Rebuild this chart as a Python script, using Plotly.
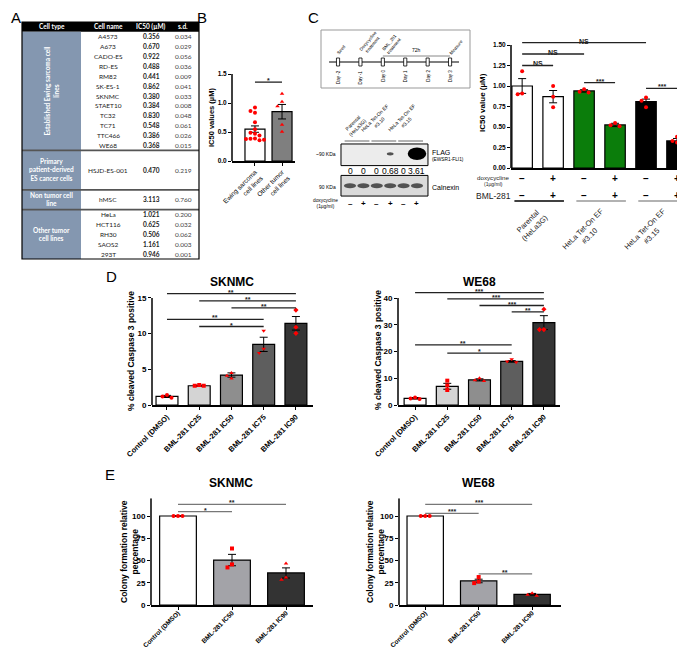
import plotly.graph_objects as go

W, H = 685, 651
SANS = "Liberation Sans"
TAB = "Lato"

# ===================== DATA =====================
# Panel A - IC50 table
table_headers = ["Cell type", "Cell name", "IC50 (µM)", "s.d."]
es_names = ["A4573", "A673", "CADO-ES", "RD-ES", "RM82", "SK-ES-1", "SKNMC",
            "STAET10", "TC32", "TC71", "TTC466", "WE68"]
es_ic50 = [0.356, 0.670, 0.922, 0.488, 0.441, 0.862, 0.380, 0.384, 0.830, 0.548, 0.386, 0.368]
es_sd = [0.034, 0.029, 0.056, 0.036, 0.009, 0.041, 0.033, 0.008, 0.048, 0.061, 0.026, 0.015]
primary_names = ["HSJD-ES-001"]
primary_ic50 = [0.470]
primary_sd = [0.219]
nontumor_names = ["hMSC"]
nontumor_ic50 = [3.113]
nontumor_sd = [0.760]
other_names = ["HeLa", "HCT116", "RH30", "SAOS2", "293T"]
other_ic50 = [1.021, 0.625, 0.506, 1.161, 0.946]
other_sd = [0.200, 0.032, 0.062, 0.003, 0.001]
group_labels = ["Established Ewing sarcoma cell<br>lines",
                "Primary<br>patient-derived<br>ES cancer cells",
                "Non tumor cell<br>line",
                "Other tumor<br>cell lines"]

# Panel B
b_categories = ["Ewing sarcoma<br>cell lines", "Other tumor<br>cell lines"]
b_means = [0.55, 0.85]
b_sem = [0.055, 0.125]
b_points = [es_ic50 + primary_ic50, other_ic50]
b_sig = [(0, 1, 1.36, "*")]

# Panel C - timeline
tl_days = [-2, -1, 0, 1, 2, 3]
tl_day_labels = ["Day -2", "Day -1", "Day 0", "Day 1", "Day 2", "Day 3"]
tl_event_days = [-2, -1, 0, 3]
tl_events = ["Seed", "Doxycycline<br>treatment", "BML_281<br>treatment", "Measure"]
tl_window = (0, 3, "72h")

# Panel C - western blot
blot_groups = ["Parental<br>(HeLa3G)", "HeLa Tet-On EF<br>#3.10", "HeLa Tet-On EF<br>#3.15"]
blot_dox = ["–", "+", "–", "+", "–", "+"]
flag_quant = [0, 0, 0, 0.68, 0, 3.61]
flag_quant_text = ["0", "0", "0", "0.68", "0", "3.61"]

# Panel C - IC50 bars
c_means = [1.00, 0.87, 0.94, 0.525, 0.81, 0.33]
c_sem = [0.09, 0.075, 0.015, 0.02, 0.03, 0.03]
c_points = [[1.18, 0.91, 0.90], [1.00, 0.87, 0.74], [0.96, 0.93, 0.92],
            [0.55, 0.52, 0.51], [0.86, 0.82, 0.74], [0.38, 0.33, 0.31]]
c_dox = ["–", "+", "–", "+", "–", "+"]
c_bml = ["–", "+", "–", "+", "–", "+"]
c_sig = [(0, 4, 1.53, "NS"), (0, 2, 1.39, "NS"), (0, 1, 1.25, "NS"),
         (2, 3, 1.04, "***"), (4, 5, 0.97, "***")]

# Panel D - cleaved caspase 3
d_categories = ["Control (DMSO)", "BML-281 IC25", "BML-281 IC50", "BML-281 IC75", "BML-281 IC90"]
d_sknmc_means = [1.2, 2.7, 4.2, 8.5, 11.45]
d_sknmc_sem = [0.15, 0.08, 0.3, 1.0, 0.95]
d_sknmc_points = [[1.4, 1.0, 1.2], [2.8, 2.7, 2.7], [4.5, 3.7, 4.1],
                  [10.4, 7.9, 7.3], [13.3, 10.9, 10.05]]
d_sknmc_sig = [(0, 4, 15.6, "**"), (1, 4, 14.6, "**"), (2, 4, 13.6, "**"),
               (0, 3, 12.0, "**"), (1, 3, 11.0, "*")]
d_we68_means = [2.5, 7.0, 9.4, 16.3, 30.8]
d_we68_sem = [0.3, 1.1, 0.4, 0.3, 2.6]
d_we68_points = [[2.8, 2.2, 2.4], [9.1, 7.3, 5.6], [10.0, 9.0, 9.3],
                 [17.1, 16.0, 16.3], [35.8, 28.2, 28.2]]
d_we68_sig = [(0, 4, 42.0, "***"), (1, 4, 39.7, "***"), (2, 4, 37.2, "***"),
              (3, 4, 34.8, "**"), (0, 3, 22.5, "**"), (1, 3, 19.4, "*")]

# Panel E - colony formation
e_categories = ["Control (DMSO)", "BML-281 IC50", "BML-281 IC90"]
e_sknmc_means = [100, 50.5, 36]
e_sknmc_sem = [0.3, 6.4, 5.7]
e_sknmc_points = [[100, 100, 100], [63.5, 45.6, 42.2], [46.7, 31.0, 28.4]]
e_sknmc_sig = [(0, 2, 113, "**"), (0, 1, 105, "*")]
e_we68_means = [100, 27, 12]
e_we68_sem = [0.3, 2.0, 1.0]
e_we68_points = [[100, 100, 100], [31.4, 26.3, 24.6], [13.2, 11.5, 10.5]]
e_we68_sig = [(0, 2, 113, "***"), (0, 1, 103, "***"), (1, 2, 35, "**")]

# ===================== STYLE =====================
c_colors = ["white", "white", "#0b7d0b", "#0b7d0b", "black", "black"]
d_colors = ["white", "#d4d4d4", "#8e8e8e", "#5e5e5e", "#353535"]
e_colors = ["white", "#a3a3a8", "#333333"]
d_symbols = ["circle", "square", "triangle-up", "triangle-down", "diamond"]
e_symbols = ["circle", "square", "triangle-up"]

fig = go.Figure()
ann, shp, axes_layout = [], [], {}


def P(x):
    return x / W


def Q(y):
    return 1 - y / H


def text(t, x, y, size=8, color="black", bold=False, xanchor="center", yanchor="middle",
         angle=0, xref="paper", yref="paper", family=SANS, align="center", yshift=0):
    if xref == "paper":
        x = P(x)
    if yref == "paper":
        y = Q(y)
    ann.append(dict(text=t, x=x, y=y, xref=xref, yref=yref, showarrow=False,
                    font=dict(size=size, color=color, family=family,
                              weight="bold" if bold else "normal"),
                    xanchor=xanchor, yanchor=yanchor, textangle=angle, align=align,
                    yshift=yshift, borderpad=0))


def axes(n, x0, x1, y0, y1, xr, yr, xopts=None, yopts=None):
    xk = "xaxis" if n == 1 else f"xaxis{n}"
    yk = "yaxis" if n == 1 else f"yaxis{n}"
    xid = "x" if n == 1 else f"x{n}"
    yid = "y" if n == 1 else f"y{n}"
    base = dict(showgrid=False, zeroline=False, automargin=False, fixedrange=True)
    xa = dict(base, domain=[P(x0), P(x1)], range=xr, anchor=yid, visible=False)
    ya = dict(base, domain=[Q(y1), Q(y0)], range=yr, anchor=xid, visible=False)
    if xopts:
        xa.update(xopts)
    if yopts:
        ya.update(yopts)
    axes_layout[xk] = xa
    axes_layout[yk] = ya
    return xid, yid


def swarm(vals, thresh, step):
    offs = [0.0] * len(vals)
    placed = []
    order = sorted(range(len(vals)), key=lambda k: -vals[k])
    for k in order:
        for c in [0, -1, 1, -2, 2, -3, 3]:
            if all(abs(vals[k] - vals[j]) >= thresh or offs[j] != c * step for j in placed):
                offs[k] = c * step
                break
        placed.append(k)
    return offs


def bar_panel(n, xpx, ypx, xr, yr, axis_top, yticks, ytext, means, sems, points, colors,
              symbols, sigs, ppx, ppy, xlabels=None, xticks=True, bar_w=0.68,
              tick_size=8, xlabel_size=8, xlabel_bold=True, sig_color="#222", msize=4,
              standoff=0):
    xid, yid = axes(
        n, xpx[0], xpx[1], ypx[0], ypx[1], xr, yr,
        xopts=dict(visible=True, showline=True, linecolor="black", linewidth=1.5,
                   ticks="outside" if xticks else "", ticklen=3, tickwidth=1.2,
                   tickcolor="black", tickmode="array", tickvals=list(range(len(means))),
                   ticktext=xlabels if xlabels else [""] * len(means),
                   showticklabels=bool(xlabels), tickangle=-45,
                   ticklabelstandoff=standoff,
                   tickfont=dict(family=SANS, size=xlabel_size, color="black",
                                 weight="bold" if xlabel_bold else "normal")),
        yopts=dict(visible=True, showline=False, ticks="outside", ticklen=3, tickwidth=1.2,
                   tickcolor="black", tickmode="array", tickvals=yticks, ticktext=ytext,
                   tickfont=dict(family=SANS, size=tick_size, color="black", weight="bold")))
    fig.add_trace(go.Bar(x=list(range(len(means))), y=means, width=bar_w,
                         marker=dict(color=colors, line=dict(color="black", width=1.2)),
                         error_y=dict(type="data", array=sems, color="black", thickness=1, width=4),
                         xaxis=xid, yaxis=yid, hoverinfo="skip"))
    for i, pts in enumerate(points):
        offs = swarm(pts, 4.5 / ppy, 4.5 / ppx)
        fig.add_trace(go.Scatter(x=[i + o for o in offs], y=pts, mode="markers",
                                 marker=dict(color="red", size=msize, symbol=symbols[i]),
                                 cliponaxis=False, xaxis=xid, yaxis=yid, hoverinfo="skip"))
    shp.append(dict(type="line", xref=f"{xid} domain", yref=yid, x0=0, x1=0, y0=0,
                    y1=axis_top, line=dict(color="black", width=1.5)))
    for (i, j, y, t) in sigs:
        shp.append(dict(type="line", xref=xid, yref=yid, x0=i, x1=j, y0=y, y1=y,
                        line=dict(color=sig_color, width=1.3)))
        text(t, (i + j) / 2, y, size=7, bold=True, xref=xid, yref=yid,
             yanchor="bottom", yshift=-3, color="#222")
    return xid, yid


# ===================== PANEL A: table =====================
axes(1, 13, 192, 12, 253, [-1, 178], [24.2, -0.2])
shp.append(dict(type="rect", xref="x", yref="y", x0=0, x1=177, y0=0, y1=1,
                fillcolor="black", line=dict(width=0)))
shp.append(dict(type="rect", xref="x", yref="y", x0=0, x1=59, y0=1, y1=24,
                fillcolor="#8497b0", line=dict(width=0)))
col_x = [29.5, 86, 129, 161]
for cx, h in zip(col_x, table_headers):
    text(h, cx, 0.5, size=6.5, color="white", bold=True, xref="x", yref="y", family=TAB)

groups = [(es_names, es_ic50, es_sd), (primary_names, primary_ic50, primary_sd),
          (nontumor_names, nontumor_ic50, nontumor_sd), (other_names, other_ic50, other_sd)]
group_spans = [12, 4, 2, 5]
row = 1
for gi, ((names, ic50, sd), span) in enumerate(zip(groups, group_spans)):
    rh = span / len(names)
    for k, (nm, v, s) in enumerate(zip(names, ic50, sd)):
        yc = row + (k + 0.5) * rh
        text(nm, col_x[1], yc, size=6.5, xref="x", yref="y", family=TAB, color="#222")
        text(f"{v:.3f}", col_x[2], yc, size=6.5, bold=True, xref="x", yref="y", family=TAB, color="#222")
        text(f"{s:.3f}", col_x[3], yc, size=6.5, xref="x", yref="y", family=TAB, color="#444")
    text(group_labels[gi], col_x[0], row + span / 2, size=6.5, color="white", bold=True,
         xref="x", yref="y", family=TAB, angle=-90 if span > 6 else 0)
    row += span
    if row < 24:
        shp.append(dict(type="line", xref="x", yref="y", x0=0, x1=177, y0=row, y1=row,
                        line=dict(color="#555", width=1.6)))
shp.append(dict(type="rect", xref="x", yref="y", x0=0, x1=177, y0=0, y1=24,
                line=dict(color="black", width=1.2)))

# ===================== PANEL B =====================
bar_panel(2, (224, 287), (66, 153), [-0.85, 1.48], [0, 1.5], 1.5,
          [0, 0.5, 1.0, 1.5], ["0.0", "0.5", "1.0", "1.5"], b_means, b_sem, b_points,
          ["white", "#7f7f7f"], ["circle", "triangle-up"], b_sig, 27, 58,
          xlabels=b_categories, bar_w=0.74, tick_size=6.5, xlabel_size=6.5,
          xlabel_bold=False, msize=4)
text("IC50 values (µM)", 203, 110, size=7.5, bold=True, angle=-90)

# ===================== PANEL C: timeline =====================
axes(3, 313, 462, 22, 80, [-2.76, 3.89], [58, 0])
shp.append(dict(type="rect", xref="x3 domain", yref="y3 domain", x0=0, x1=1, y0=0, y1=1,
                line=dict(color="#999", width=1)))
shp.append(dict(type="line", xref="x3", yref="y3", x0=min(tl_days) - 0.4, x1=max(tl_days) + 0.4,
                y0=32, y1=32, line=dict(color="black", width=1.2)))
for d, lab in zip(tl_days, tl_day_labels):
    shp.append(dict(type="rect", xref="x3", yref="y3", x0=d - 0.07, x1=d + 0.07, y0=28, y1=36,
                    fillcolor="white", line=dict(color="black", width=0.8)))
    text(lab, d, 39, size=4.5, xref="x3", yref="y3", angle=-90, yanchor="top")
for d, ev in zip(tl_event_days, tl_events):
    text(ev, d - 0.15, 27, size=4.5, xref="x3", yref="y3", angle=-50,
         xanchor="left", yanchor="bottom")
shp.append(dict(type="line", xref="x3", yref="y3", x0=tl_window[0], x1=tl_window[1], y0=26, y1=26,
                line=dict(color="#888", width=1)))
text(tl_window[2], (tl_window[0] + tl_window[1]) / 2, 24, size=5, xref="x3", yref="y3",
     yanchor="bottom")

# ===================== PANEL C: blot =====================
axes(4, 332, 421, 135, 191, [-0.746, 5.896], [56, -1])
shp.append(dict(type="rect", xref="x4", yref="y4", x0=-0.672, x1=5.82, y0=0, y1=22,
                fillcolor="#ececec", line=dict(color="black", width=1)))
shp.append(dict(type="rect", xref="x4", yref="y4", x0=-0.672, x1=5.82, y0=32, y1=53,
                fillcolor="#dadada", line=dict(color="black", width=1)))
for lane, q in enumerate(flag_quant):
    if q > 0:
        hw = 0.15 + 0.15 * q
        hh = 0.6 + 1.6 * q
        shp.append(dict(type="circle", xref="x4", yref="y4", x0=lane - hw, x1=lane + hw,
                        y0=10 - hh, y1=10 + hh, fillcolor="black",
                        opacity=min(1.0, 0.55 + 0.15 * q), line=dict(width=0)))
    shp.append(dict(type="circle", xref="x4", yref="y4", x0=lane - 0.45, x1=lane + 0.45,
                    y0=40, y1=45, fillcolor="#3a3a3a", opacity=0.85, line=dict(width=0)))
    text(flag_quant_text[lane], lane, 27, size=8.5, xref="x4", yref="y4")
    text(blot_dox[lane], lane, 196, size=8, bold=True, xref="x4")
for g, lab in enumerate(blot_groups):
    shp.append(dict(type="line", xref="x4", yref="paper", x0=2 * g - 0.4, x1=2 * g + 1.45,
                    y0=Q(133), y1=Q(133), line=dict(color="#666", width=1)))
    text(lab, 2 * g + 1.4, 131, size=5, xref="x4", angle=-45, xanchor="right", yanchor="bottom")
text("~90 KDa", 329, 146, size=5, xanchor="right")
text("90 KDa", 329, 179, size=5, xanchor="right")
text("FLAG", 423, 144, size=7, xanchor="left")
text("(EWSR1-FLI1)", 423, 152, size=4.8, xanchor="left")
text("Calnexin", 423, 179, size=7, xanchor="left")
text("doxycycline<br>(1µg/ml)", 331, 196, size=4.8, xanchor="right")

# ===================== PANEL C: IC50 bars =====================
cx_id, cy_id = bar_panel(5, (503, 680), (28.8, 160), [-0.36, 5.355], [0, 1.6], 1.5,
                         [0, 0.25, 0.5, 0.75, 1.0, 1.25, 1.5],
                         ["0.00", "0.25", "0.50", "0.75", "1.00", "1.25", "1.50"],
                         c_means, c_sem, c_points, c_colors, ["circle"] * 6, c_sig, 31, 82,
                         xlabels=None, xticks=False, bar_w=0.66, tick_size=6.5, msize=4)
text("IC50 value (µM)", 474, 95, size=8, bold=True, angle=-90)
text("doxycycline", 485, 169, size=6.2, color="#222")
text("(1µg/ml)", 485, 176, size=5, color="#222")
text("BML-281", 486, 188, size=8.5, color="#222")
for i in range(len(c_means)):
    text(c_dox[i], i, 170, size=10, bold=True, xref=cx_id)
    text(c_bml[i], i, 188, size=10, bold=True, xref=cx_id)
for g, lab in enumerate(blot_groups):
    shp.append(dict(type="line", xref=cx_id, yref="paper", x0=2 * g - 0.25, x1=2 * g + 1.35,
                    y0=Q(193), y1=Q(193), line=dict(color="black" if g == 0 else "#999", width=1.3)))
    text(lab, 2 * g + 0.95, 197, size=7.5, xref=cx_id, angle=-45, xanchor="right",
         yanchor="top", color="#222")

# ===================== PANEL D =====================
bar_panel(6, (144, 305), (280.7, 397), [-0.465, 4.53], [0, 16.3], 15,
          [0, 5, 10, 15], ["0", "5", "10", "15"], d_sknmc_means, d_sknmc_sem,
          d_sknmc_points, d_colors, d_symbols, d_sknmc_sig, 32.25, 7.13,
          xlabels=d_categories, xlabel_size=7.5)
bar_panel(7, (390, 552), (282, 397), [-0.53, 4.5], [0, 43], 40,
          [0, 10, 20, 30, 40], ["0", "10", "20", "30", "40"], d_we68_means, d_we68_sem,
          d_we68_points, d_colors, d_symbols, d_we68_sig, 32.2, 2.675,
          xlabels=d_categories, xlabel_size=7.5)
text("SKNMC", 224, 274, size=12, bold=True)
text("WE68", 471, 274, size=12, bold=True)
text("% cleaved Caspase 3 positive", 123, 343, size=8.5, bold=True, angle=-90)
text("% cleaved Caspase 3 positive", 370, 342, size=8.5, bold=True, angle=-90)

# ===================== PANEL E =====================
bar_panel(8, (143, 305), (490.2, 597), [-0.5, 2.5], [0, 120], 120,
          [0, 25, 50, 75, 100], ["0", "25", "50", "75", "100"], e_sknmc_means, e_sknmc_sem,
          e_sknmc_points, e_colors, e_symbols, e_sknmc_sig, 54, 0.89,
          xlabels=e_categories, sig_color="#777", xlabel_size=6.5, standoff=-3)
bar_panel(9, (391, 553), (490.2, 597), [-0.49, 2.54], [0, 120], 120,
          [0, 25, 50, 75, 100], ["0", "25", "50", "75", "100"], e_we68_means, e_we68_sem,
          e_we68_points, e_colors, e_symbols, e_we68_sig, 53.5, 0.89,
          xlabels=e_categories, sig_color="#777", xlabel_size=6.5, standoff=-3)
text("SKNMC", 223, 475, size=12, bold=True)
text("WE68", 470, 475, size=12, bold=True)
text("Colony formation relative<br>percentage", 121, 544, size=8.5, bold=True, angle=-90)
text("Colony formation relative<br>percentage", 367, 544, size=8.5, bold=True, angle=-90)

# ===================== Panel letters =====================
for letter, x, y in [("A", 8, 9), ("B", 194, 9), ("C", 305, 9), ("D", 103, 269), ("E", 102, 466)]:
    text(letter, x, y, size=15)

fig.update_layout(width=W, height=H, margin=dict(l=0, r=0, t=0, b=0),
                  paper_bgcolor="white", plot_bgcolor="rgba(0,0,0,0)",
                  showlegend=False, template="none",
                  font=dict(family=SANS, color="black"),
                  annotations=ann, shapes=shp, **axes_layout)
fig.write_html("out.html")
